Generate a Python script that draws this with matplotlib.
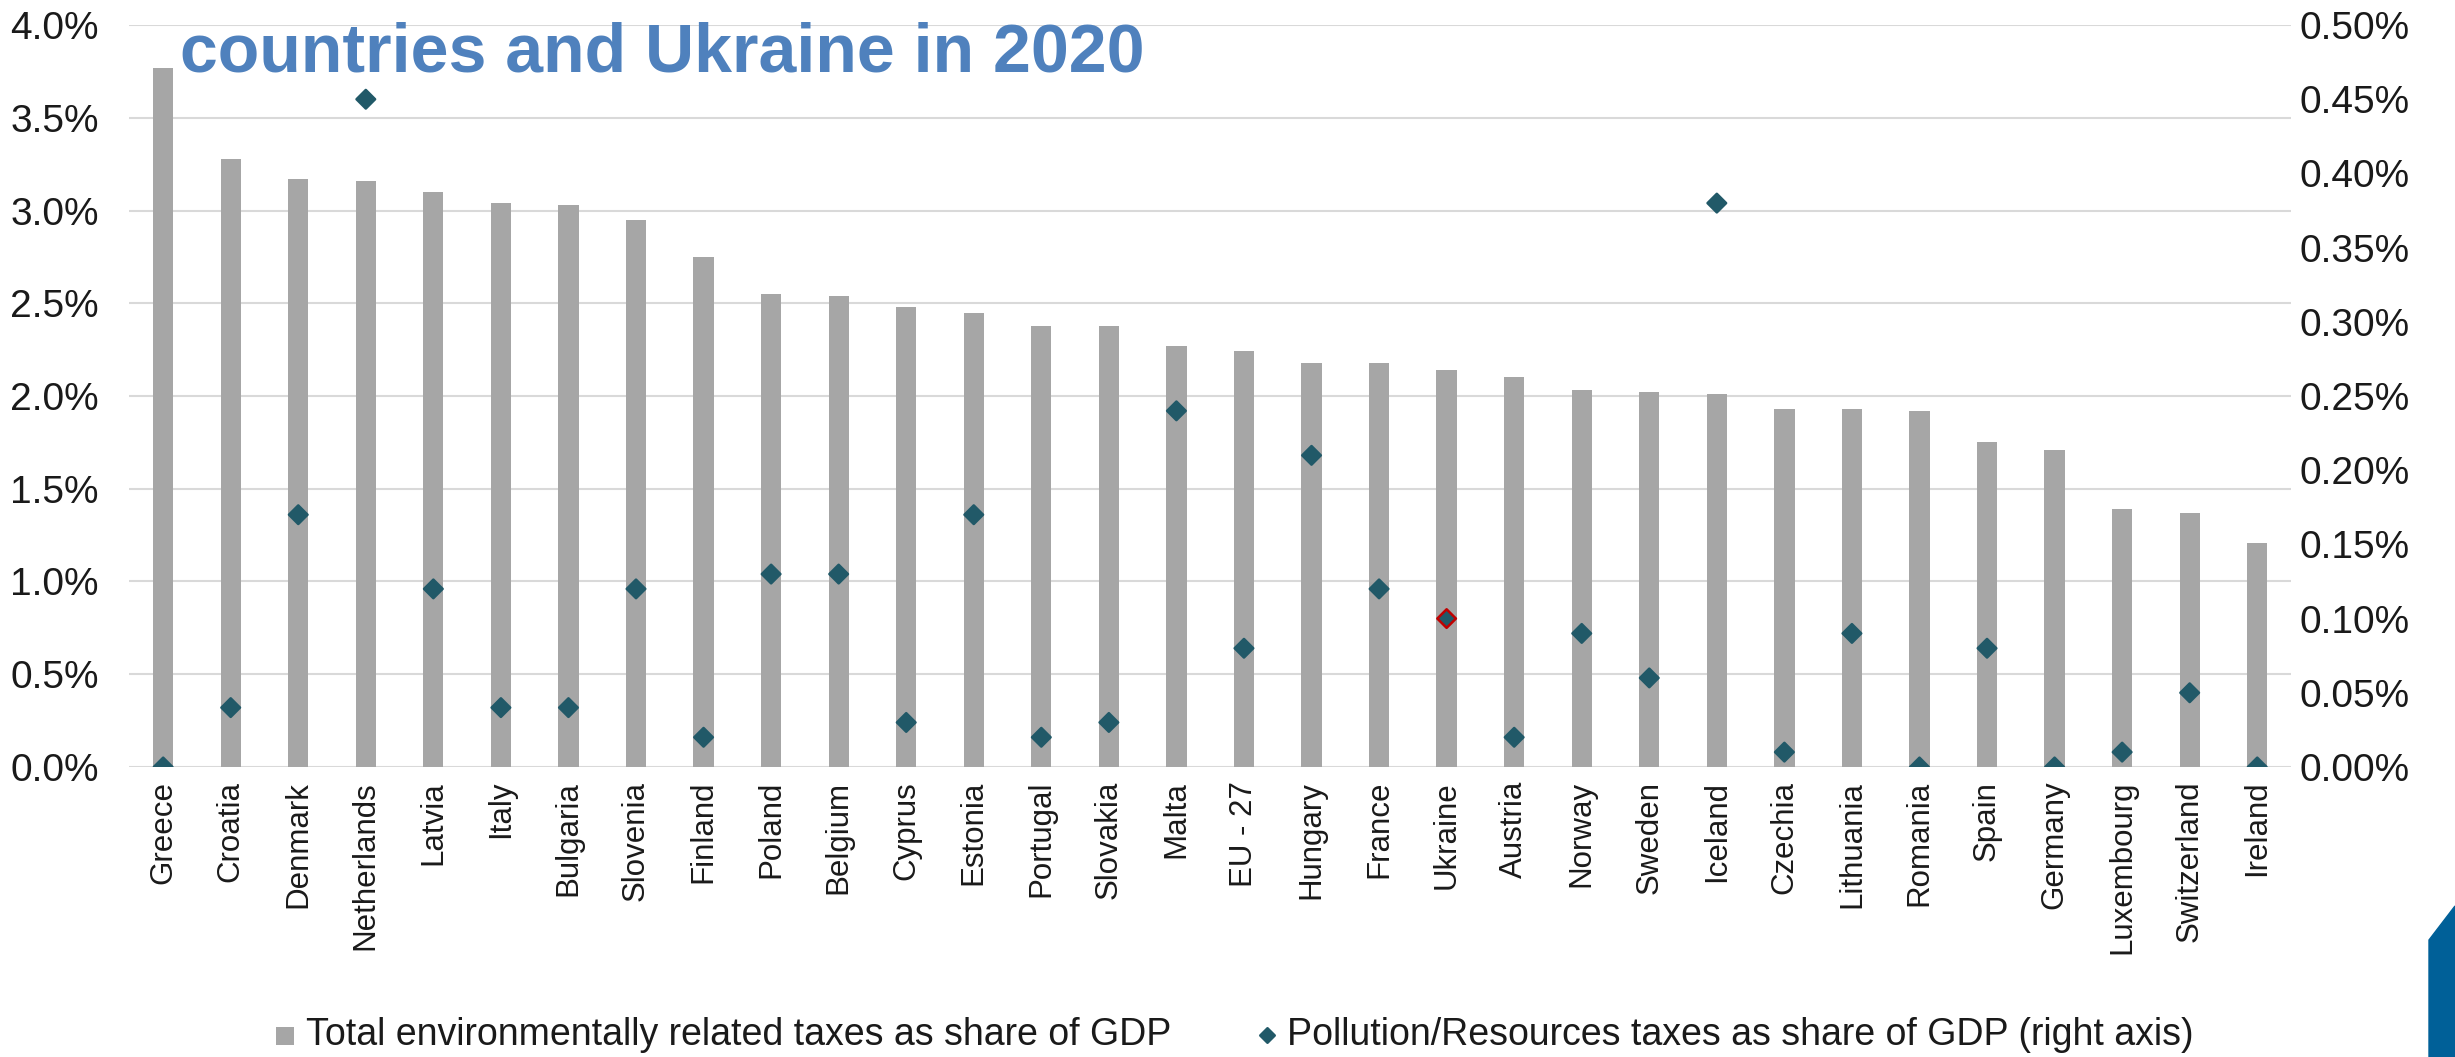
import numpy as np
import matplotlib.pyplot as plt
from matplotlib.patches import Polygon

countries = ['Greece', 'Croatia', 'Denmark', 'Netherlands', 'Latvia', 'Italy', 'Bulgaria',
             'Slovenia', 'Finland', 'Poland', 'Belgium', 'Cyprus', 'Estonia', 'Portugal',
             'Slovakia', 'Malta', 'EU - 27', 'Hungary', 'France', 'Ukraine', 'Austria',
             'Norway', 'Sweden', 'Iceland', 'Czechia', 'Lithuania', 'Romania', 'Spain',
             'Germany', 'Luxembourg', 'Switzerland', 'Ireland']

# total environmentally related taxes, % of GDP (left axis)
total_taxes = [3.77, 3.28, 3.17, 3.16, 3.10, 3.04, 3.03, 2.95, 2.75, 2.55, 2.54, 2.48,
               2.45, 2.38, 2.38, 2.27, 2.24, 2.18, 2.18, 2.14, 2.10, 2.03, 2.02, 2.01,
               1.93, 1.93, 1.92, 1.75, 1.71, 1.39, 1.37, 1.21]

# pollution / resources taxes, % of GDP (right axis)
pollution_taxes = [0.00, 0.04, 0.17, 0.45, 0.12, 0.04, 0.04, 0.12, 0.02, 0.13, 0.13, 0.03,
                   0.17, 0.02, 0.03, 0.24, 0.08, 0.21, 0.12, 0.10, 0.02, 0.09, 0.06, 0.38,
                   0.01, 0.09, 0.00, 0.08, 0.00, 0.01, 0.05, 0.00]

left_ticks = [0.0, 0.5, 1.0, 1.5, 2.0, 2.5, 3.0, 3.5, 4.0]
right_ticks = [0.00, 0.05, 0.10, 0.15, 0.20, 0.25, 0.30, 0.35, 0.40, 0.45, 0.50]

BAR_COLOR = '#A6A6A6'
MARKER_COLOR = '#215968'
TEXT_COLOR = '#1a1a1a'
plt.rcParams['font.family'] = ['Liberation Sans', 'DejaVu Sans']

fig = plt.figure(figsize=(24.55, 10.57), dpi=100)
ax = fig.add_axes([0.0527, 0.2744, 0.8805, 0.7019])
ax2 = ax.twinx()

x = np.arange(len(countries))
ax.bar(x, total_taxes, width=0.3, color=BAR_COLOR, zorder=2,
       label='Total environmentally related taxes as share of GDP')

colors_edge = ['#C00000' if c == 'Ukraine' else MARKER_COLOR for c in countries]
ax2.scatter(x, pollution_taxes, marker='D', s=90, color=MARKER_COLOR,
            edgecolors=colors_edge, linewidths=1.8, zorder=3,
            label='Pollution/Resources taxes as share of GDP (right axis)')

ax.set_xlim(-0.5, len(countries) - 0.5)
ax.set_ylim(0, 4.0)
ax2.set_ylim(0, 0.5)

ax.set_yticks(left_ticks)
ax.set_yticklabels(['%.1f%%' % t for t in left_ticks], fontsize=28, color=TEXT_COLOR)
ax2.set_yticks(right_ticks)
ax2.set_yticklabels(['%.2f%%' % t for t in right_ticks], fontsize=28, color=TEXT_COLOR)

ax.set_xticks(x)
ax.set_xticklabels(countries, rotation=90, fontsize=22.5, color=TEXT_COLOR)

ax.grid(axis='y', color='#D9D9D9', linewidth=1.5, zorder=0)
ax.set_axisbelow(True)
for a in (ax, ax2):
    for s in a.spines.values():
        s.set_visible(False)
    a.tick_params(length=0)
ax.tick_params(axis='y', pad=22)
ax2.tick_params(axis='y', pad=6)
ax.tick_params(axis='x', pad=10)

h1, l1 = ax.get_legend_handles_labels()
h2, l2 = ax2.get_legend_handles_labels()
leg = fig.legend(h1 + h2, l1 + l2, loc='center', bbox_to_anchor=(0.503, 0.021), ncol=2,
                 frameon=False, fontsize=27, columnspacing=2.3, handlelength=0.5,
                 handletextpad=0.3, labelcolor=TEXT_COLOR)
leg.legend_handles[0].set_height(13)
leg.legend_handles[0].set_width(13)
leg.legend_handles[1].set_sizes([55])
leg.legend_handles[1].set_edgecolor(MARKER_COLOR)

# title fragment cut at the top of the slide
fig.text(0.0733, 1 - 71 / 1057, 'countries and Ukraine in 2020', fontsize=49,
         fontweight='bold', color='#4F81BD', ha='left', va='baseline')

# slide decoration in the lower right corner
corner = Polygon([(2429 / 2455, 1 - 940 / 1057), (1.0, 1 - 906 / 1057), (1.0, 0.0),
                  (2429 / 2455, 0.0)], closed=True, transform=fig.transFigure,
                 color='#006098', zorder=5)
fig.patches.append(corner)

fig.savefig('out.png', dpi=100)
